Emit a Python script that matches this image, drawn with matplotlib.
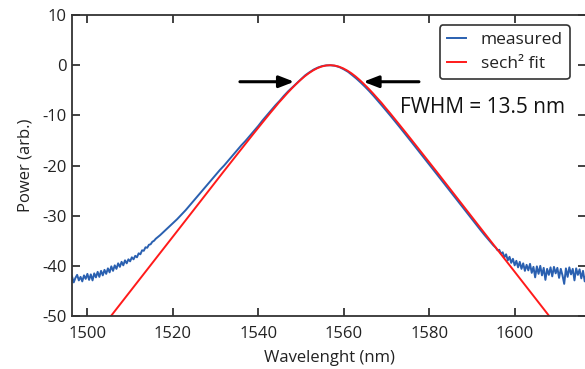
import numpy as np
import matplotlib
matplotlib.use("Agg")
import matplotlib.pyplot as plt

plt.rcParams['font.family'] = ['Open Sans', 'DejaVu Sans']
plt.rcParams['axes.unicode_minus'] = False

# ---------------- data ----------------
# measured spectrum, left noisy floor (0.4 nm grid)
meas_left_wl = np.round(np.arange(1496.4, 1516.01, 0.4), 1)
meas_left_p = [-42.1, -43.3, -42.4, -41.8, -42.9, -42.2, -43.1, -41.9, -42.6, -41.6,
               -42.8, -41.7, -42.9, -41.5, -42.3, -41.2, -42.2, -41.0, -41.9, -40.8,
               -41.6, -40.5, -41.3, -40.1, -41.0, -39.9, -40.6, -39.5, -40.2, -39.2,
               -39.9, -38.9, -39.5, -38.7, -39.1, -38.3, -38.7, -38.0, -38.3, -37.5,
               -37.7, -36.9, -37.0, -36.3, -36.4, -35.8, -35.7, -35.2, -35.0, -34.6]

# measured spectrum, central part (1 nm grid)
meas_mid_wl = np.arange(1517, 1596, 1)
meas_mid_p = [-33.9, -33.1, -32.3, -31.5, -30.7, -29.8, -28.9, -27.9, -26.9, -25.9,
              -24.9, -23.9, -22.9, -21.9, -20.9, -20.0, -19.0, -18.0, -17.0, -16.0,
              -15.1, -14.1, -13.1, -12.1, -11.0, -10.0, -9.0, -8.0, -7.1, -6.1,
              -5.2, -4.4, -3.6, -2.8, -2.0, -1.4, -0.85, -0.45, -0.17, -0.03,
              -0.02, -0.13, -0.39, -0.82, -1.32, -2.00, -2.71, -3.49, -4.32, -5.20,
              -6.14, -7.12, -8.12, -9.12, -10.15, -11.19, -12.25, -13.31, -14.38, -15.46,
              -16.54, -17.62, -18.70, -19.79, -20.88, -21.96, -23.05, -24.14, -25.23, -26.32,
              -27.41, -28.50, -29.60, -30.70, -31.80, -32.85, -33.90, -34.90, -35.90]

# measured spectrum, right noisy floor (0.4 nm grid)
meas_right_wl = np.round(np.arange(1595.6, 1616.81, 0.4), 1)
meas_right_p = [-36.4, -36.9, -36.8, -37.6, -37.3, -38.3, -37.7, -38.9, -38.2, -39.4,
                -38.6, -39.9, -39.0, -40.3, -39.2, -40.6, -39.5, -41.0, -39.8, -40.9,
                -39.6, -41.4, -40.2, -42.3, -40.1, -41.6, -40.0, -41.9, -40.4, -42.8,
                -40.6, -41.8, -40.3, -42.1, -40.2, -41.5, -40.4, -42.4, -40.6, -41.9,
                -43.6, -40.5, -42.2, -40.3, -41.7, -40.6, -42.9, -40.5, -41.8, -40.7,
                -42.5, -41.0, -43.1, -41.6]

# sech^2 fit
fit_wl = [1503.8, 1506.8, 1511.8, 1516.8, 1521.8, 1526.8, 1531.8, 1534.8, 1536.8, 1538.8,
          1540.8, 1541.8, 1542.8, 1543.8, 1544.8, 1545.8, 1546.8, 1547.8, 1548.8, 1549.8,
          1550.8, 1551.8, 1552.8, 1553.8, 1554.8, 1555.8, 1556.8, 1557.8, 1558.8, 1559.8,
          1560.8, 1561.8, 1562.8, 1563.8, 1564.8, 1565.8, 1566.8, 1567.8, 1568.8, 1569.8,
          1570.8, 1571.8, 1572.8, 1574.8, 1576.8, 1578.8, 1581.8, 1586.8, 1591.8, 1596.8,
          1601.8, 1606.8, 1609.8]
fit_p = [-51.88, -48.60, -43.14, -37.68, -32.23, -26.76, -21.29, -18.05, -15.89, -13.74,
         -11.62, -10.57, -9.52, -8.51, -7.47, -6.53, -5.575, -4.67, -3.82, -3.005,
         -2.265, -1.616, -1.058, -0.604, -0.272, -0.0685, 0.0, -0.0685, -0.272, -0.604,
         -1.058, -1.616, -2.265, -3.005, -3.82, -4.67, -5.575, -6.53, -7.47, -8.51,
         -9.52, -10.57, -11.62, -13.74, -15.89, -18.05, -21.29, -26.76, -32.23, -37.68,
         -43.14, -48.60, -51.88]

xticks = [1500, 1520, 1540, 1560, 1580, 1600]
yticks = [10, 0, -10, -20, -30, -40, -50]

arrow_y = -3.3
arrow_left = (1535.7, 1548.4)   # tail, tip
arrow_right = (1577.6, 1564.6)
fwhm_text = "FWHM = 13.5 nm"

# ---------------- plot ----------------
meas_wl = np.concatenate([meas_left_wl, meas_mid_wl, meas_right_wl])
meas_p = np.concatenate([meas_left_p, meas_mid_p, meas_right_p])

fig = plt.figure(figsize=(5.85, 3.69), dpi=100)
ax = fig.add_axes([0.1231, 0.1436, 0.8786, 0.8157])

ax.plot(meas_wl, meas_p, color='#2a60b0', lw=1.4, label='measured')
ax.plot(fit_wl, fit_p, color='#ff1a1a', lw=1.4, label='sech² fit')

ax.set_xlim(1496.4, 1616.7)
ax.set_ylim(-50, 10)
ax.set_xticks(xticks)
ax.set_yticks(yticks)

dark = '#333333'
for s in ax.spines.values():
    s.set_color(dark)
    s.set_linewidth(1.3)
ax.tick_params(direction='in', length=6, width=1.3, color=dark, labelsize=12,
               labelcolor='#222222', top=True, right=True)
ax.tick_params(axis='x', pad=7)
ax.tick_params(axis='y', pad=4)

ax.set_xlabel('Wavelenght (nm)', fontsize=12, color='#222222', labelpad=6)
ax.set_ylabel('Power (arb.)', fontsize=12, color='#222222', labelpad=6)

for tail, tip in (arrow_left, arrow_right):
    ax.annotate('', xy=(tip, arrow_y), xytext=(tail, arrow_y),
                arrowprops=dict(arrowstyle='-|>,head_length=0.9,head_width=0.35',
                                color='black', lw=2.2, shrinkA=0, shrinkB=0))

ax.text(1573.2, -8.5, fwhm_text, fontsize=15, color='#111111', va='center', ha='left')

leg = ax.legend(loc='upper right', bbox_to_anchor=(0.985, 0.995), fontsize=12.5,
                handlelength=1.1, handletextpad=0.85, borderpad=0.4, labelspacing=0.45,
                fancybox=True, framealpha=1, edgecolor='#333333')
leg.get_frame().set_linewidth(1.2)
for t in leg.get_texts():
    t.set_color('#222222')

fig.savefig('out.png', dpi=100)
